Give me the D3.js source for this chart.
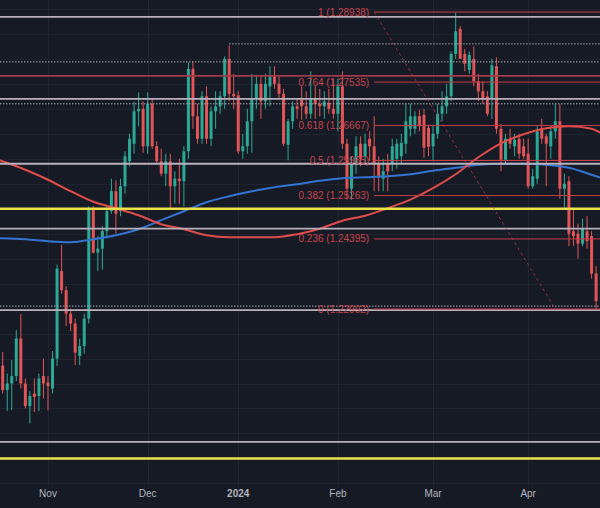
<!DOCTYPE html>
<html><head><meta charset="utf-8">
<script src="https://cdn.jsdelivr.net/npm/d3@7"></script>
<style>html,body{margin:0;padding:0;background:#161a25;overflow:hidden}</style>
</head><body>
<svg id="chart" width="600" height="508"></svg>
<script>
// ---------- DATA ----------
const dates = [
"2023-10-17","2023-10-18","2023-10-19","2023-10-20","2023-10-23","2023-10-24","2023-10-25","2023-10-26","2023-10-27","2023-10-30","2023-10-31",
"2023-11-01","2023-11-02","2023-11-03","2023-11-06","2023-11-07","2023-11-08","2023-11-09","2023-11-10","2023-11-13","2023-11-14","2023-11-15","2023-11-16","2023-11-17","2023-11-20","2023-11-21","2023-11-22","2023-11-23","2023-11-24","2023-11-27","2023-11-28","2023-11-29","2023-11-30",
"2023-12-01","2023-12-04","2023-12-05","2023-12-06","2023-12-07","2023-12-08","2023-12-11","2023-12-12","2023-12-13","2023-12-14","2023-12-15","2023-12-18","2023-12-19","2023-12-20","2023-12-21","2023-12-22","2023-12-26","2023-12-27","2023-12-28","2023-12-29",
"2024-01-02","2024-01-03","2024-01-04","2024-01-05","2024-01-08","2024-01-09","2024-01-10","2024-01-11","2024-01-12","2024-01-15","2024-01-16","2024-01-17","2024-01-18","2024-01-19","2024-01-22","2024-01-23","2024-01-24","2024-01-25","2024-01-26","2024-01-29","2024-01-30","2024-01-31",
"2024-02-01","2024-02-02","2024-02-05","2024-02-06","2024-02-07","2024-02-08","2024-02-09","2024-02-12","2024-02-13","2024-02-14","2024-02-15","2024-02-16","2024-02-19","2024-02-20","2024-02-21","2024-02-22","2024-02-23","2024-02-26","2024-02-27","2024-02-28","2024-02-29",
"2024-03-01","2024-03-04","2024-03-05","2024-03-06","2024-03-07","2024-03-08","2024-03-11","2024-03-12","2024-03-13","2024-03-14","2024-03-15","2024-03-18","2024-03-19","2024-03-20","2024-03-21","2024-03-22","2024-03-25","2024-03-26","2024-03-27","2024-03-28","2024-03-29",
"2024-04-01","2024-04-02","2024-04-03","2024-04-04","2024-04-05","2024-04-08","2024-04-09","2024-04-10","2024-04-11","2024-04-12","2024-04-15","2024-04-16","2024-04-17","2024-04-18","2024-04-19","2024-04-22","2024-04-23"];

const open = [null,
1.2186,1.2137,1.2150,1.2165,1.2240,1.2150,1.2105,1.2130,1.2125,1.2165,
1.2152,1.2140,1.2200,1.2375,1.2337,1.2290,1.2270,1.2205,1.2225,1.2280,1.2500,1.2412,1.2420,1.2455,1.2495,1.2535,1.2495,1.2545,1.2595,1.2630,1.2695,1.2700,
1.2625,1.2710,1.2625,1.2595,1.2570,1.2595,1.2545,1.2560,1.2555,1.2615,1.2780,1.2685,1.2640,1.2725,1.2640,1.2695,1.2705,1.2725,1.2800,1.2730,
1.2727,1.2615,1.2625,1.2675,1.2720,1.2750,1.2715,1.2745,1.2765,1.2750,1.2730,1.2628,1.2675,1.2705,1.2718,1.2705,1.2690,1.2720,1.2710,1.2705,1.2712,1.2700,
1.2690,1.2745,1.2630,1.2540,1.2590,1.2630,1.2605,1.2640,1.2625,1.2590,1.2560,1.2590,1.2590,1.2600,1.2605,1.2630,1.2660,1.2660,1.2685,1.2688,1.2662,
1.2625,1.2650,1.2690,1.2705,1.2725,1.2810,1.2860,1.2810,1.2778,1.2800,1.2755,1.2735,1.2725,1.2720,1.2785,1.2660,1.2598,1.2640,1.2625,1.2640,1.2625,
1.2610,1.2545,1.2560,1.2660,1.2645,1.2625,1.2655,1.2675,1.2540,1.2555,1.2455,1.2450,1.2430,1.2455,1.2445,1.2370,null];

const high = [null,
1.2213,1.2170,1.2197,1.2257,1.2289,1.2160,1.2135,1.2160,1.2170,1.2200,
1.2165,1.2215,1.2388,1.2428,1.2345,1.2300,1.2280,1.2240,1.2290,1.2505,1.2505,1.2445,1.2465,1.2505,1.2560,1.2557,1.2560,1.2615,1.2650,1.2714,1.2733,1.2715,
1.2733,1.2720,1.2635,1.2620,1.2610,1.2610,1.2575,1.2600,1.2625,1.2793,1.2795,1.2710,1.2735,1.2745,1.2705,1.2735,1.2735,1.2805,1.2827,1.2770,
1.2735,1.2650,1.2700,1.2770,1.2768,1.2765,1.2770,1.2785,1.2785,1.2765,1.2740,1.2680,1.2715,1.2720,1.2745,1.2735,1.2775,1.2745,1.2740,1.2735,1.2740,1.2760,
1.2760,1.2775,1.2640,1.2605,1.2645,1.2645,1.2650,1.2655,1.2685,1.2605,1.2600,1.2610,1.2640,1.2640,1.2650,1.2710,1.2710,1.2695,1.2698,1.2700,1.2668,
1.2668,1.2710,1.2735,1.2750,1.2815,1.2893,1.2865,1.2820,1.2815,1.2825,1.2770,1.2755,1.2735,1.2800,1.2803,1.2670,1.2650,1.2660,1.2650,1.2650,1.2640,
1.2640,1.2580,1.2665,1.2680,1.2650,1.2665,1.2710,1.2709,1.2570,1.2565,1.2500,1.2470,1.2480,1.2485,1.2455,1.2385,null];

const low = [null,
1.2130,1.2095,1.2097,1.2155,1.2140,1.2100,1.2070,1.2093,1.2095,1.2120,
1.2096,1.2130,1.2185,1.2330,1.2265,1.2255,1.2187,1.2187,1.2210,1.2270,1.2410,1.2375,1.2378,1.2440,1.2490,1.2450,1.2485,1.2530,1.2585,1.2610,1.2665,1.2612,
1.2610,1.2620,1.2590,1.2565,1.2545,1.2500,1.2510,1.2510,1.2505,1.2600,1.2660,1.2630,1.2630,1.2630,1.2625,1.2660,1.2690,1.2700,1.2715,1.2700,
1.2610,1.2600,1.2610,1.2612,1.2700,1.2680,1.2700,1.2705,1.2740,1.2720,1.2625,1.2597,1.2660,1.2680,1.2678,1.2680,1.2680,1.2680,1.2685,1.2680,1.2690,1.2680,
1.2655,1.2620,1.2518,1.2518,1.2570,1.2585,1.2590,1.2595,1.2535,1.2535,1.2535,1.2535,1.2575,1.2580,1.2590,1.2610,1.2645,1.2650,1.2655,1.2602,1.2605,
1.2595,1.2640,1.2675,1.2690,1.2715,1.2800,1.2800,1.2775,1.2770,1.2745,1.2715,1.2710,1.2685,1.2680,1.2650,1.2575,1.2590,1.2620,1.2605,1.2600,1.2600,
1.2540,1.2540,1.2550,1.2630,1.2545,1.2600,1.2640,1.2520,1.2500,1.2425,1.2425,1.2400,1.2425,1.2420,1.2360,1.2299,null];

const close = [null,
1.2137,1.2150,1.2165,1.2240,1.2150,1.2105,1.2125,1.2123,1.2160,1.2150,
1.2145,1.2200,1.2380,1.2337,1.2290,1.2270,1.2212,1.2225,1.2280,1.2500,1.2412,1.2420,1.2455,1.2495,1.2535,1.2490,1.2545,1.2605,1.2640,1.2695,1.2700,1.2625,
1.2710,1.2625,1.2595,1.2570,1.2595,1.2545,1.2560,1.2555,1.2615,1.2780,1.2685,1.2640,1.2725,1.2640,1.2695,1.2705,1.2725,1.2800,1.2730,1.2725,
1.2615,1.2625,1.2675,1.2720,1.2750,1.2715,1.2750,1.2765,1.2750,1.2730,1.2630,1.2675,1.2705,1.2700,1.2705,1.2690,1.2720,1.2710,1.2705,1.2715,1.2700,1.2690,
1.2745,1.2630,1.2540,1.2590,1.2625,1.2600,1.2630,1.2625,1.2590,1.2565,1.2575,1.2575,1.2625,1.2630,1.2632,1.2675,1.2685,1.2685,1.2665,1.2622,1.2624,
1.2650,1.2690,1.2705,1.2725,1.2810,1.2855,1.2800,1.2790,1.2808,1.2755,1.2735,1.2720,1.2690,1.2787,1.2660,1.2598,1.2640,1.2630,1.2638,1.2610,1.2605,
1.2545,1.2565,1.2655,1.2640,1.2630,1.2655,1.2675,1.2540,1.2550,1.2450,1.2445,1.2430,1.2460,1.2435,1.2370,1.2315,null];

// moving averages read at these dates
const maDates = ["2023-10-17","2023-10-25","2023-11-01","2023-11-08","2023-11-15","2023-11-22","2023-11-29","2023-12-06","2023-12-13","2023-12-20","2023-12-28","2024-01-05","2024-01-12","2024-01-19","2024-01-26","2024-02-02","2024-02-09","2024-02-16","2024-02-23","2024-03-01","2024-03-08","2024-03-15","2024-03-22","2024-03-29","2024-04-05","2024-04-12","2024-04-19","2024-04-23"];
const maRed  = [1.2598,1.2578,1.2558,1.2535,1.2514,1.2501,1.2487,1.2469,1.2459,1.2447,1.2443,1.2443,1.2443,1.2449,1.2460,1.2476,1.2486,1.2501,1.2518,1.2541,1.2569,1.2603,1.2631,1.2649,1.2661,1.2665,1.2660,1.2652];
const maBlue = [1.2441,1.2439,1.2435,1.2433,1.2439,1.2447,1.2459,1.2477,1.2495,1.2513,1.2525,1.2535,1.2543,1.2549,1.2556,1.2561,1.2563,1.2565,1.2569,1.2576,1.2582,1.2588,1.2590,1.2590,1.2588,1.2582,1.2568,1.2562];

// horizontal levels
const grayLevels   = [1.2884,1.2720,1.2590,1.2460,1.2297,1.2033];
const dottedLevels = [1.2794,1.2710,1.2305];
const dottedFrom   = [{date:"2023-12-28", price:1.2830}];
const redLevels    = [1.2766];
const yellowLevels = [1.2500,1.2000];

// fibonacci retracement
const fibRatios = [1,0.764,0.618,0.5,0.382,0.236,0];
const fibHigh = 1.28938, fibLow = 1.22992;
const fibStart = "2024-02-13", fibEnd = "2024-04-09";

// x axis
const monthTicks  = ["2023-11-01","2023-12-01","2024-01-02","2024-02-01","2024-03-01","2024-04-01"];
const monthLabels = ["Nov","Dec","2024","Feb","Mar","Apr"];

// ---------- DRAW ----------
const W = 600, H = 508;
const svg = d3.select("#chart");
svg.append("rect").attr("width",W).attr("height",H).attr("fill","#161a25");

const x = d3.scaleBand().domain(dates).range([-4.1, 602.9]).paddingInner(0).paddingOuter(0);
const xc = d => x(d) + x.bandwidth()/2;
const y = d3.scaleLinear().domain([fibLow, fibHigh]).range([309, 12]);

// grid
const gridVals = d3.scaleLinear().domain([y.invert(H), y.invert(0)]).ticks(20);
svg.append("g").selectAll("line").data(gridVals).join("line")
  .attr("x1",0).attr("x2",W).attr("y1",d=>Math.round(y(d))+0.5).attr("y2",d=>Math.round(y(d))+0.5)
  .attr("stroke","#20242f").attr("stroke-width",1);
svg.append("g").selectAll("line").data(monthTicks).join("line")
  .attr("x1",d=>Math.round(xc(d))+0.5).attr("x2",d=>Math.round(xc(d))+0.5).attr("y1",0).attr("y2",486)
  .attr("stroke","#20242f").attr("stroke-width",1);

// candles
const idx = d3.range(dates.length).filter(i => open[i] != null);
const up = "#2ba995", dn = "#df5558";
const cg = svg.append("g");
cg.selectAll("line").data(idx).join("line")
  .attr("x1",i=>xc(dates[i])).attr("x2",i=>xc(dates[i]))
  .attr("y1",i=>y(high[i])).attr("y2",i=>y(low[i]))
  .attr("stroke",i=>close[i]>=open[i]?up:dn).attr("stroke-width",1);
const bw = 3;
cg.selectAll("rect").data(idx).join("rect")
  .attr("x",i=>xc(dates[i])-bw/2).attr("width",bw)
  .attr("y",i=>y(Math.max(open[i],close[i])))
  .attr("height",i=>Math.max(1,Math.abs(y(open[i])-y(close[i]))))
  .attr("fill",i=>close[i]>=open[i]?up:dn);

// moving averages
const maLine = d3.line().x(d=>xc(d[0])).y(d=>y(d[1])).curve(d3.curveMonotoneX);
svg.append("path").datum(d3.zip(maDates,maBlue)).attr("d",maLine)
  .attr("fill","none").attr("stroke","#3474d0").attr("stroke-width",2);
svg.append("path").datum(d3.zip(maDates,maRed)).attr("d",maLine)
  .attr("fill","none").attr("stroke","#de4d4b").attr("stroke-width",2);

// horizontal levels
const hl = svg.append("g");
hl.selectAll(".gray").data(grayLevels).join("line").attr("class","gray")
  .attr("x1",0).attr("x2",W).attr("y1",d=>y(d)).attr("y2",d=>y(d))
  .attr("stroke","#b9b1bc").attr("stroke-width",1.8);
hl.selectAll(".dot").data(dottedLevels).join("line").attr("class","dot")
  .attr("x1",0).attr("x2",W).attr("y1",d=>y(d)).attr("y2",d=>y(d))
  .attr("stroke","#a9a8b2").attr("stroke-width",1).attr("stroke-dasharray","1.5,1.5");
hl.selectAll(".dotf").data(dottedFrom).join("line").attr("class","dotf")
  .attr("x1",d=>xc(d.date)).attr("x2",W).attr("y1",d=>y(d.price)).attr("y2",d=>y(d.price))
  .attr("stroke","#a9a8b2").attr("stroke-width",1).attr("stroke-dasharray","1.5,1.5");
hl.selectAll(".red").data(redLevels).join("line").attr("class","red")
  .attr("x1",0).attr("x2",W).attr("y1",d=>y(d)).attr("y2",d=>y(d))
  .attr("stroke","#a23a4b").attr("stroke-width",1.8);
hl.selectAll(".yel").data(yellowLevels).join("line").attr("class","yel")
  .attr("x1",0).attr("x2",W).attr("y1",d=>y(d)).attr("y2",d=>y(d))
  .attr("stroke","#ece24c").attr("stroke-width",2.5);

// fibonacci
const fibPrice = r => fibLow + r*(fibHigh-fibLow);
const fx = xc(fibStart);
const fg = svg.append("g");
fg.selectAll("line").data(fibRatios).join("line")
  .attr("x1",fx).attr("x2",W).attr("y1",r=>y(fibPrice(r))).attr("y2",r=>y(fibPrice(r)))
  .attr("stroke","#c83c48").attr("stroke-width",1);
fg.selectAll("text").data(fibRatios).join("text")
  .attr("x",fx-5).attr("y",r=>y(fibPrice(r))).attr("dy","0.35em")
  .attr("text-anchor","end").attr("font-family","Liberation Sans, Arial, sans-serif")
  .attr("font-size",10).attr("fill","#c9434e")
  .text(r=>`${r} (${fibPrice(r).toFixed(5)})`);
fg.append("line").attr("x1",fx).attr("y1",y(fibHigh)).attr("x2",xc(fibEnd)).attr("y2",y(fibLow))
  .attr("stroke","#c83c48").attr("stroke-width",1).attr("stroke-dasharray","3,3").attr("opacity",0.7);

// x axis
const ax = svg.append("g").attr("transform","translate(0,488)")
  .call(d3.axisBottom(x).tickValues(monthTicks).tickFormat((d,i)=>monthLabels[i]).tickSize(0).tickPadding(2));
ax.select(".domain").remove();
ax.selectAll("text").attr("fill","#b2b5be").attr("font-size",10)
  .attr("font-family","Liberation Sans, Arial, sans-serif")
  .attr("font-weight",(d,i)=>monthLabels[i]==="2024"?"bold":"normal");
</script>
</body></html>
